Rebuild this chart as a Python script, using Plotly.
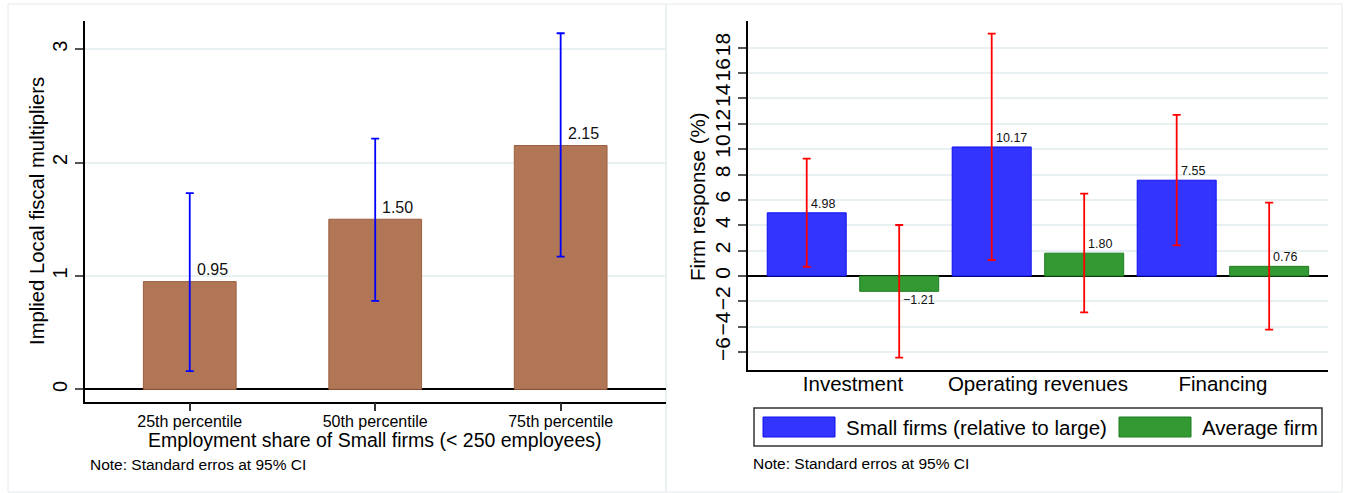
import plotly.graph_objects as go

# ---------------- data ----------------
left_categories = ["25th percentile", "50th percentile", "75th percentile"]
left_values = [0.95, 1.50, 2.15]
left_ci_low = [0.16, 0.78, 1.17]
left_ci_high = [1.73, 2.21, 3.14]
left_ticks = [0, 1, 2, 3]

right_categories = ["Investment", "Operating revenues", "Financing"]
small_values = [4.98, 10.17, 7.55]
small_ci_low = [0.73, 1.26, 2.42]
small_ci_high = [9.25, 19.10, 12.70]
avg_values = [-1.21, 1.80, 0.76]
avg_ci_low = [-6.44, -2.87, -4.23]
avg_ci_high = [4.02, 6.49, 5.78]
right_ticks = [-6, -4, -2, 0, 2, 4, 6, 8, 10, 12, 14, 16, 18]

series_names = ["Small firms (relative to large)", "Average firm"]
left_x_title = "Employment share of Small firms (< 250 employees)"
left_y_title = "Implied Local fiscal multipliers"
right_y_title = "Firm response (%)"
note_text = "Note: Standard erros at 95% CI"

# ---------------- style ----------------
W, H = 1347, 493
FONT = "Liberation Sans, Arial, Helvetica, sans-serif"
BROWN = "#b07656"
BROWN_EDGE = "#9c5e40"
BLUE = "#3434ff"
BLUE_EDGE = "#1010f0"
GREEN = "#339933"
GREEN_EDGE = "#1f7f1f"
GRID = "#e9f0f2"
BORDER = "#e4eaec"


def px(x):
    return x / W


def py(y):
    return 1 - y / H


fig = go.Figure()

# left panel
fig.add_trace(go.Bar(
    x=left_categories, y=left_values, width=0.5,
    marker=dict(color=BROWN, line=dict(color=BROWN_EDGE, width=1)),
    error_y=dict(type="data", symmetric=False,
                 array=[h - v for h, v in zip(left_ci_high, left_values)],
                 arrayminus=[v - l for v, l in zip(left_values, left_ci_low)],
                 color="#0000ff", thickness=1.8, width=4),
    xaxis="x", yaxis="y", showlegend=False, hoverinfo="skip",
))

# right panel
bw = 0.427
fig.add_trace(go.Bar(
    x=right_categories, y=small_values, width=bw, offset=-0.25 - bw / 2,
    name=series_names[0],
    marker=dict(color=BLUE, line=dict(color=BLUE_EDGE, width=1)),
    error_y=dict(type="data", symmetric=False,
                 array=[h - v for h, v in zip(small_ci_high, small_values)],
                 arrayminus=[v - l for v, l in zip(small_values, small_ci_low)],
                 color="#ff0000", thickness=1.8, width=4),
    xaxis="x2", yaxis="y2", showlegend=False, hoverinfo="skip",
))
fig.add_trace(go.Bar(
    x=right_categories, y=avg_values, width=bw, offset=0.25 - bw / 2,
    name=series_names[1],
    marker=dict(color=GREEN, line=dict(color=GREEN_EDGE, width=1)),
    error_y=dict(type="data", symmetric=False,
                 array=[h - v for h, v in zip(avg_ci_high, avg_values)],
                 arrayminus=[v - l for v, l in zip(avg_values, avg_ci_low)],
                 color="#ff0000", thickness=1.8, width=4),
    xaxis="x2", yaxis="y2", showlegend=False, hoverinfo="skip",
))

annotations = []
# value labels left
for i, v in enumerate(left_values):
    annotations.append(dict(x=i, y=v, xref="x", yref="y", text=f"{v:.2f}",
                            showarrow=False, xanchor="left", yanchor="middle",
                            xshift=5, yshift=12,
                            font=dict(family=FONT, size=16, color="#111")))
# value labels right
for vals, off in ((small_values, -0.25), (avg_values, 0.25)):
    for i, v in enumerate(vals):
        txt = f"{v:.2f}".replace("-", "\u2212")
        annotations.append(dict(x=i + off, y=v, xref="x2", yref="y2", text=txt,
                                showarrow=False, xanchor="left", yanchor="middle",
                                xshift=2, yshift=9 if v >= 0 else -9,
                                font=dict(family=FONT, size=12.5, color="#111")))


def label(x, y, text, size, angle=0, xanchor="center"):
    annotations.append(dict(x=px(x), y=py(y), xref="paper", yref="paper",
                            text=text, textangle=angle, showarrow=False,
                            xanchor=xanchor, yanchor="middle",
                            font=dict(family=FONT, size=size, color="#000")))


# axis titles
label(37, 211, left_y_title, 20.3, angle=-90)
label(375, 440, left_x_title, 19.5)
label(697, 196, right_y_title, 20.5, angle=-90)
# notes
label(88, 464, note_text, 15.5, xanchor="left")
label(751, 463, note_text, 15.5, xanchor="left")

# legend (drawn manually)
shapes = []
shapes.append(dict(type="rect", xref="paper", yref="paper",
                   x0=px(754), x1=px(1322), y0=py(446), y1=py(408),
                   line=dict(color="#333", width=1.5), fillcolor="white"))
shapes.append(dict(type="rect", xref="paper", yref="paper",
                   x0=px(763), x1=px(835), y0=py(437), y1=py(417),
                   line=dict(color=BLUE_EDGE, width=1), fillcolor=BLUE))
shapes.append(dict(type="rect", xref="paper", yref="paper",
                   x0=px(1119), x1=px(1191), y0=py(437), y1=py(417),
                   line=dict(color=GREEN_EDGE, width=1), fillcolor=GREEN))
label(844, 427, series_names[0], 20.5, xanchor="left")
label(1200, 427, series_names[1], 20.5, xanchor="left")

# panel borders
shapes.append(dict(type="rect", xref="paper", yref="paper",
                   x0=px(8), x1=px(666), y0=py(492), y1=py(4),
                   line=dict(color=BORDER, width=1), layer="below"))
shapes.append(dict(type="rect", xref="paper", yref="paper",
                   x0=px(666), x1=px(1342), y0=py(492), y1=py(4),
                   line=dict(color=BORDER, width=1), layer="below"))

axis_common = dict(showline=True, linecolor="#000", linewidth=1.5,
                   mirror=False)

fig.update_layout(
    width=W, height=H, autosize=False,
    margin=dict(l=0, r=0, t=0, b=0),
    paper_bgcolor="white", plot_bgcolor="white",
    barmode="overlay",
    font=dict(family=FONT, color="#000"),
    xaxis=dict(domain=[px(84.6), px(666)], anchor="y",
               range=[-0.567, 2.568], type="category",
               ticks="outside", ticklen=8, tickwidth=1.5, tickcolor="#333",
               ticklabelstandoff=-4,
               tickfont=dict(family=FONT, size=16, color="#000"),
               showgrid=False, **axis_common),
    yaxis=dict(domain=[py(401.7), py(21)], anchor="x",
               range=[-0.109, 3.248], tickvals=left_ticks,
               ticks="outside", ticklen=8, tickwidth=1.5, tickcolor="#555",
               tickangle=-90,
               tickfont=dict(family=FONT, size=20, color="#000"),
               showgrid=True, gridcolor=GRID, gridwidth=1.5,
               zeroline=True, zerolinecolor="#000", zerolinewidth=2,
               **axis_common),
    xaxis2=dict(domain=[px(747.7), px(1328)], anchor="y2",
                range=[-0.569, 2.568], type="category",
                ticks="", ticklabelstandoff=-5,
                tickfont=dict(family=FONT, size=20.5, color="#000"),
                showgrid=False, **axis_common),
    yaxis2=dict(domain=[py(370), py(21)], anchor="x2",
                range=[-7.41, 20.1], tickvals=right_ticks,
                ticks="outside", ticklen=8, tickwidth=1.5, tickcolor="#555",
                tickangle=-90,
                tickfont=dict(family=FONT, size=21, color="#000"),
                showgrid=True, gridcolor=GRID, gridwidth=1.5,
                zeroline=True, zerolinecolor="#000", zerolinewidth=2,
                **axis_common),
    annotations=annotations,
    shapes=shapes,
)

fig.write_html("out.html",
               config={"displayModeBar": False},
               post_script="document.body.style.margin='0';"
                           "document.body.style.overflow='hidden';")
